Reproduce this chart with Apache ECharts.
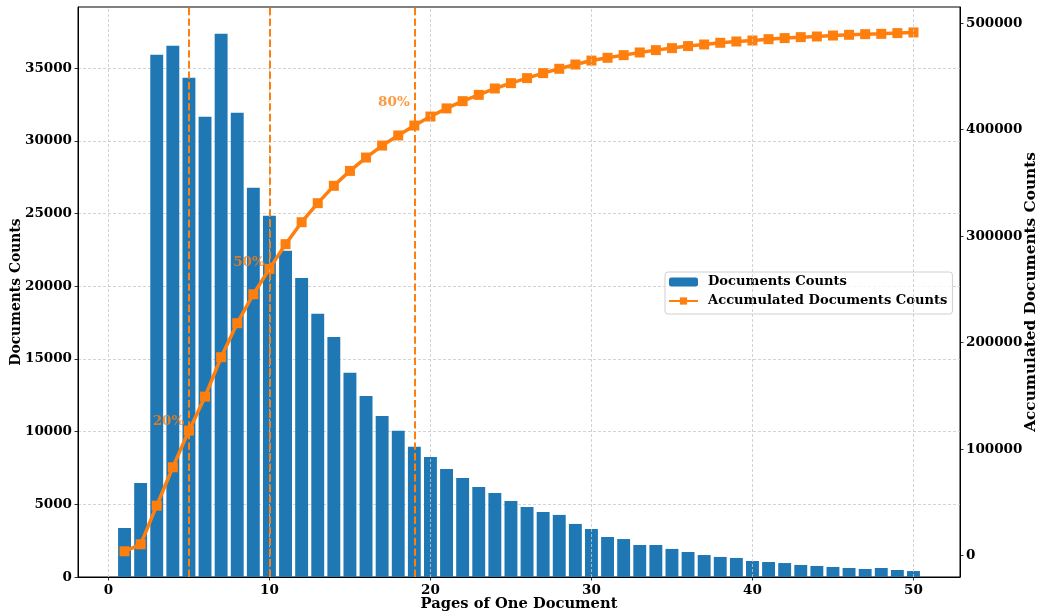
<!DOCTYPE html>
<html>
<head>
<meta charset="utf-8">
<script src="https://cdn.jsdelivr.net/npm/echarts@6/dist/echarts.min.js"></script>
<style>
html,body{margin:0;padding:0;background:#fff;}
#chart{width:1037px;height:612px;}
</style>
</head>
<body>
<div id="chart"></div>
<script>
// ---- data ----
var pages = [1,2,3,4,5,6,7,8,9,10,11,12,13,14,15,16,17,18,19,20,21,22,23,24,25,26,27,28,29,30,31,32,33,34,35,36,37,38,39,40,41,42,43,44,45,46,47,48,49,50];
var docCounts = [3370,6470,35920,36540,34330,31650,37360,31930,26770,24840,22430,20570,18100,16510,14040,12450,11080,10050,8950,8260,7430,6810,6190,5780,5230,4820,4470,4270,3650,3300,2750,2610,2200,2200,1930,1720,1510,1380,1310,1100,1030,960,830,760,690,620,550,620,480,410];
var accCounts = [4130,10700,47000,83030,117400,149350,186350,218300,245500,269300,292500,313150,331000,347300,361300,373850,385100,394600,403900,412350,420000,426800,432700,438700,443700,448400,453100,457200,461200,464900,467500,470000,472500,474700,476600,478500,480000,481600,482800,483750,485000,486000,486900,487500,488400,489100,489700,490000,490700,491300];
var xTicks = [0,10,20,30,40,50];
var leftTicks = [0,5000,10000,15000,20000,25000,30000,35000];
var rightTicks = [0,100000,200000,300000,400000,500000];
var cutPages = [5,10,19];
var pctLabels = ['20%','50%','80%'];
var pctLabelX = [3.73,8.73,17.73];
var pctLabelY = [10665,21640,32614];

// ---- chart ----
var FONT = 'DejaVu Serif';
function tx(size, color) { return {fontFamily: FONT, fontWeight: 'bold', fontSize: size, color: color || '#000'}; }
function plain(v) { return String(v); }

var chart = echarts.init(document.getElementById('chart'), null, {renderer: 'canvas'});

var barData = pages.map(function (p, i) { return [p, docCounts[i]]; });
var lineData = pages.map(function (p, i) { return [p, accCounts[i]]; });
var labelData = pctLabels.map(function (t, i) { return {value: [pctLabelX[i], pctLabelY[i]], name: t}; });

var tickStyle = {show: true, length: 3.5, lineStyle: {color: '#000', width: 0.8}};
var axisLineStyle = {show: true, onZero: false, lineStyle: {color: '#000', width: 1}};

var option = {
  animation: false,
  backgroundColor: '#fff',
  grid: {left: 78, right: 77, top: 7, bottom: 35, outerBoundsMode: 'none', containLabel: false,
         show: true, borderColor: '#000', borderWidth: 1, backgroundColor: 'transparent'},
  legend: {
    data: ['Documents Counts', 'Accumulated Documents Counts'],
    orient: 'vertical',
    left: 665, top: 272,
    padding: [2, 5, 5, 3],
    itemGap: 3,
    itemWidth: 29, itemHeight: 9,
    borderColor: '#d0d0d0', borderWidth: 1, borderRadius: 3,
    backgroundColor: 'rgba(255,255,255,0.8)',
    textStyle: Object.assign(tx(13.1), {lineHeight: 16, padding: [0, 0, 0, 5]})
  },
  xAxis: {
    type: 'value', min: -1.89, max: 52.89,
    name: 'Pages of One Document', nameLocation: 'middle', nameGap: 20, nameMoveOverlap: false,
    nameTextStyle: tx(14.7),
    axisLine: axisLineStyle,
    axisTick: Object.assign({customValues: xTicks}, tickStyle),
    axisLabel: Object.assign({margin: 6, customValues: xTicks, formatter: plain}, tx(13.5)),
    splitLine: {show: false}
  },
  yAxis: [{
    type: 'value', min: 0, max: 39200, interval: 5000, position: 'left',
    name: 'Documents Counts', nameLocation: 'middle', nameGap: 55, nameMoveOverlap: false,
    nameTextStyle: tx(13.9),
    axisLine: axisLineStyle,
    axisTick: Object.assign({customValues: leftTicks}, tickStyle),
    axisLabel: Object.assign({margin: 6, customValues: leftTicks, formatter: plain}, tx(13.5)),
    splitLine: {show: true, lineStyle: {color: '#c8c8c8', width: 0.8, type: [3, 2]}}
  }, {
    type: 'value', min: -20000, max: 515200, position: 'right',
    name: 'Accumulated Documents Counts', nameLocation: 'middle', nameGap: 64, nameMoveOverlap: false,
    nameTextStyle: tx(15.3),
    axisLine: axisLineStyle,
    axisTick: Object.assign({customValues: rightTicks}, tickStyle),
    axisLabel: Object.assign({margin: 6, customValues: rightTicks, formatter: plain}, tx(13.5)),
    splitLine: {show: false}
  }],
  series: [{
    name: 'xgrid', type: 'line', data: [], silent: true, z: 1,
    markLine: {
      silent: true, symbol: ['none', 'none'], label: {show: false},
      lineStyle: {color: '#c8c8c8', width: 0.8, type: [3, 2]},
      data: xTicks.map(function (v) { return {xAxis: v}; })
    }
  }, {
    name: 'Documents Counts', type: 'bar', data: barData, barWidth: 12.9,
    itemStyle: {color: '#1f77b4'}, z: 2
  }, {
    name: 'Accumulated Documents Counts', type: 'line', yAxisIndex: 1, data: lineData,
    symbol: 'rect', symbolSize: 10, showSymbol: true,
    lineStyle: {color: '#ff7f0e', width: 3.5},
    itemStyle: {color: '#ff7f0e'}, z: 4,
    markLine: {
      silent: true, symbol: ['none', 'none'], label: {show: false},
      lineStyle: {color: '#ff7f0e', width: 2, type: [7.4, 3.2]},
      data: cutPages.map(function (v) { return {xAxis: v}; })
    }
  }, {
    name: 'pct', type: 'scatter', data: labelData, symbolSize: 0, z: 5, silent: true,
    label: Object.assign({show: true, position: 'inside', formatter: '{b}'}, tx(13.5, '#ff7f0e'))
  }]
};
chart.setOption(option);
</script>
</body>
</html>
